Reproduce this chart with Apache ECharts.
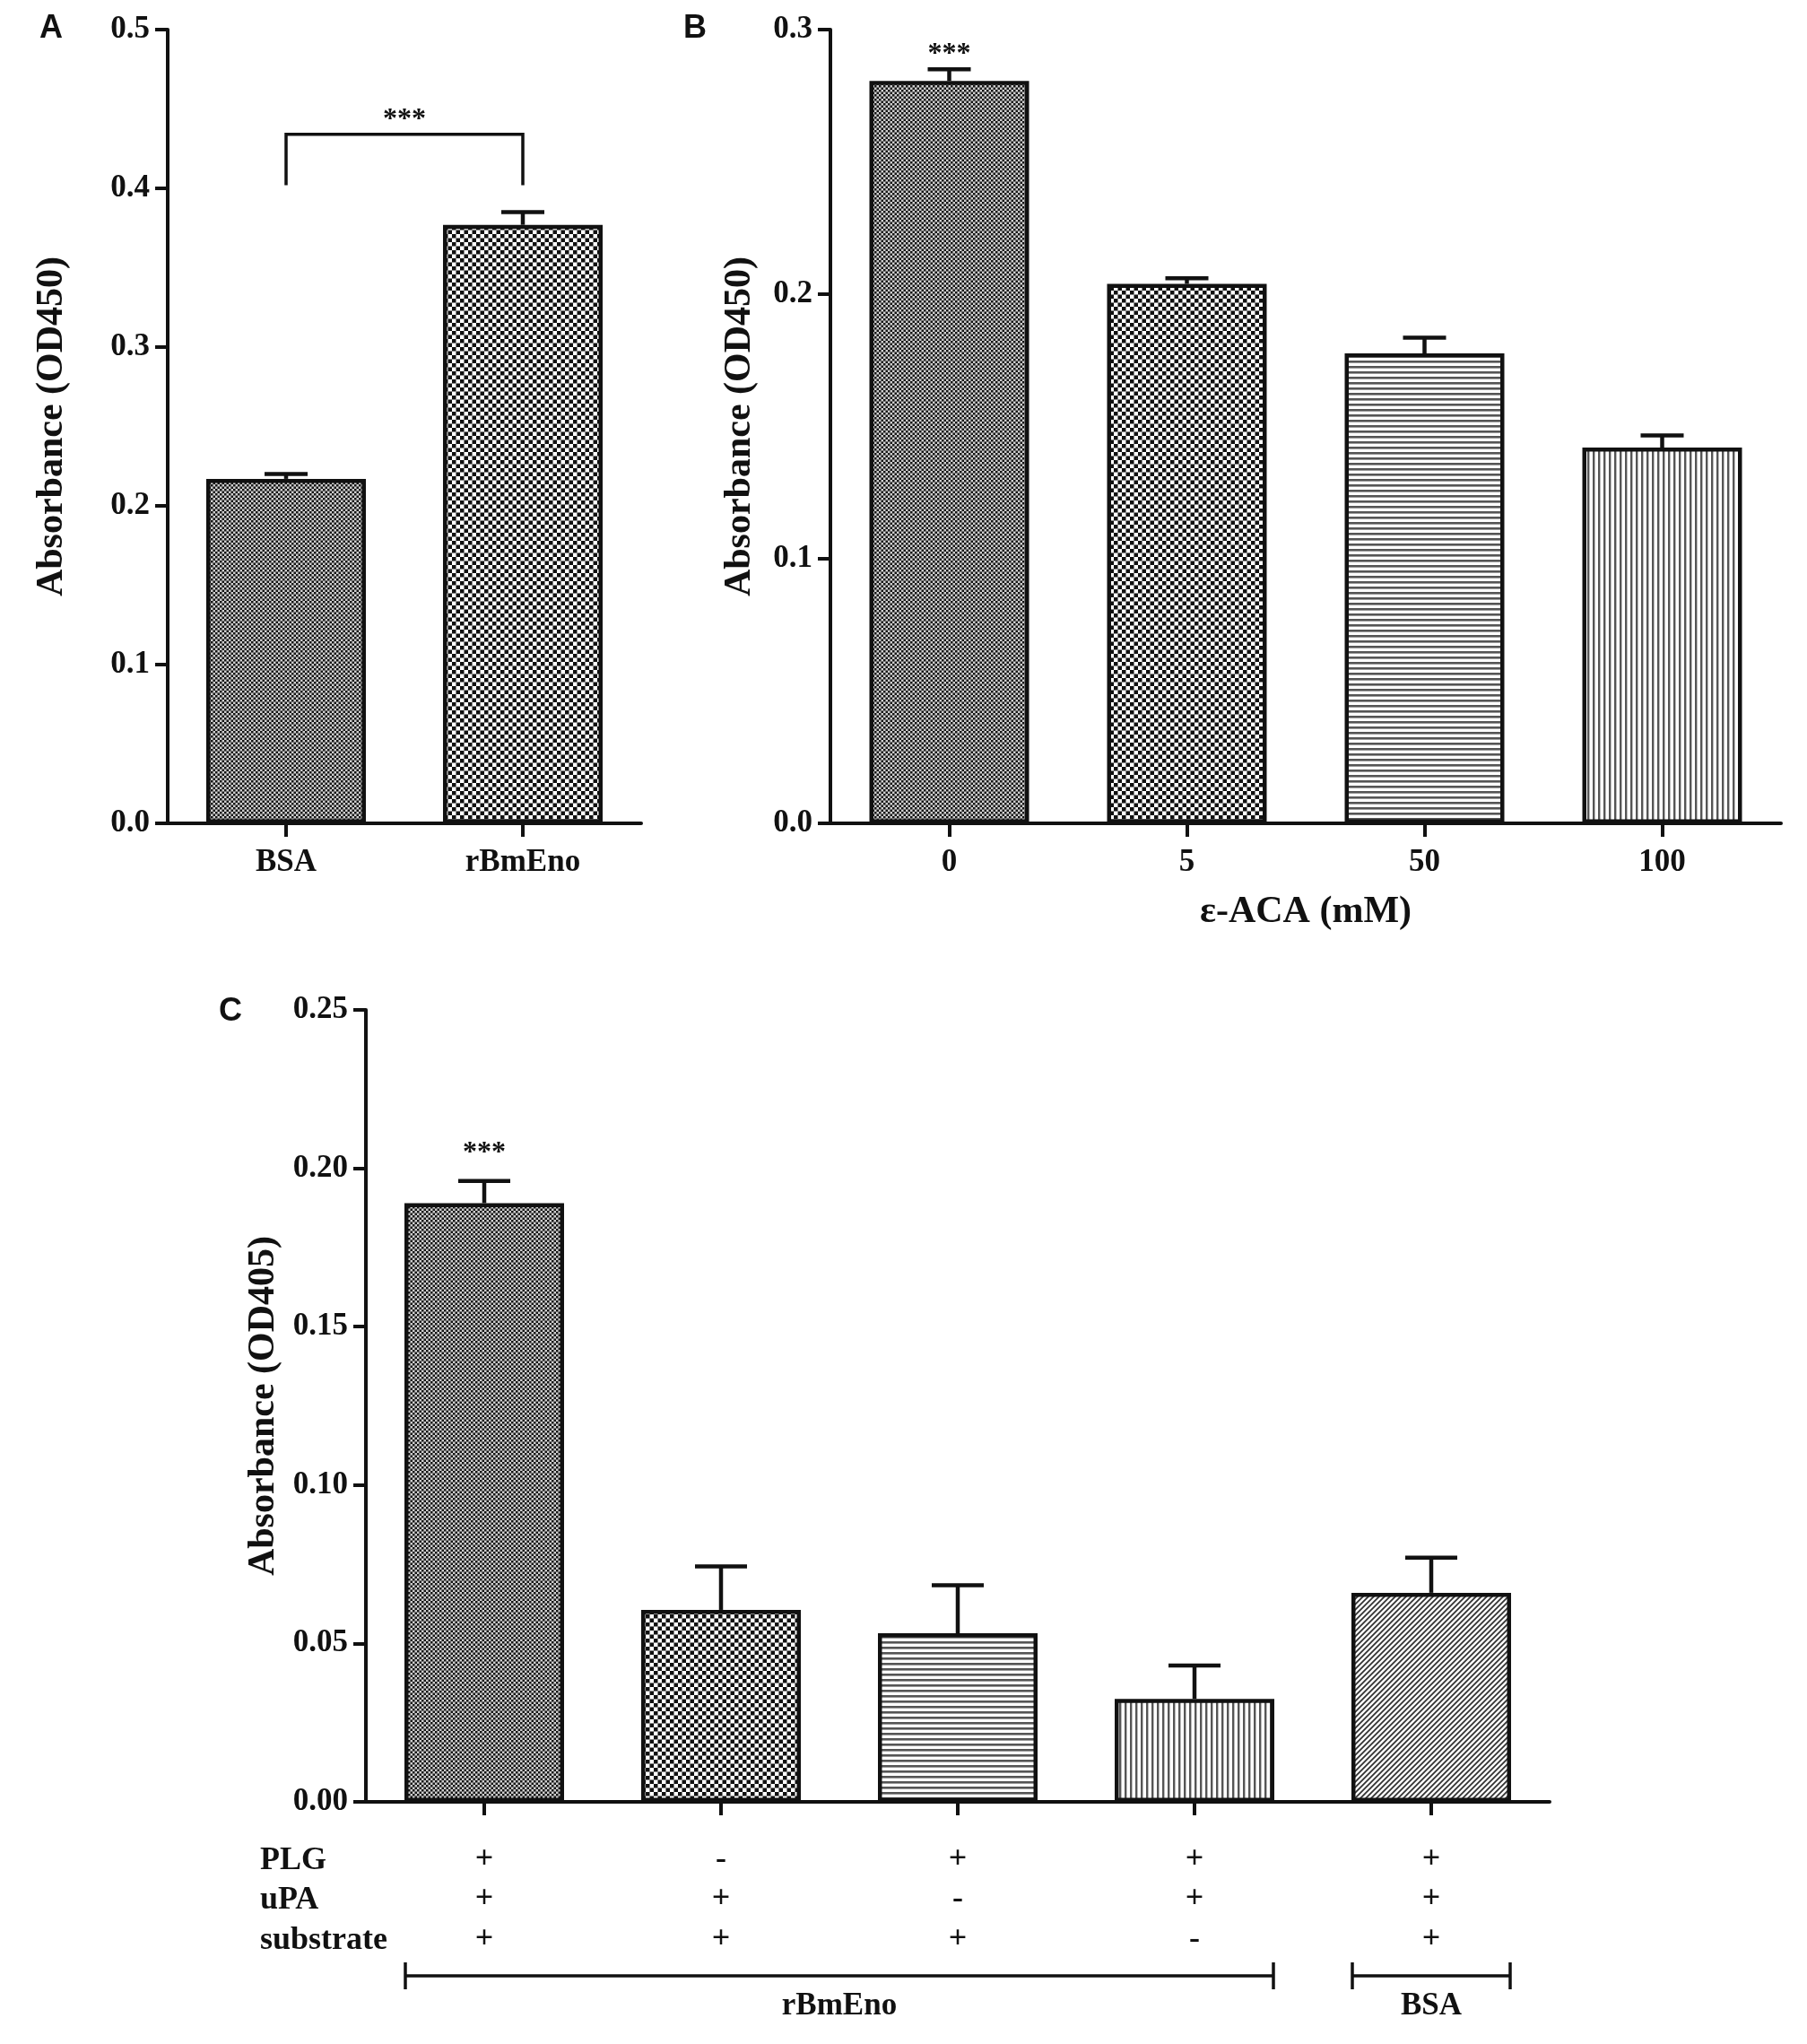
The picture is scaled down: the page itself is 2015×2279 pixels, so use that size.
<!DOCTYPE html>
<html><head><meta charset="utf-8">
<script src="https://cdn.jsdelivr.net/npm/echarts@6/dist/echarts.min.js"></script>
<style>html,body{margin:0;padding:0;background:#fff}#chart{width:2015px;height:2279px}</style>
</head><body><div id="chart"></div>
<script>
// ---------- DATA ----------
// Panel A
const catsA = ['BSA', 'rBmEno'];
const meanA = [0.217, 0.377];
const upperA = [0.220, 0.385];
const sigA = [{ from: 0, to: 1, y: 0.447, text: '***' }];
const bracketA = { from: 0, to: 1, bottom: 0.402, top: 0.434 };
// Panel B
const catsB = ['0', '5', '50', '100'];
const meanB = [0.2806, 0.2039, 0.1776, 0.1420];
const upperB = [0.2850, 0.2060, 0.1836, 0.1466];
const sigB = [{ from: 0, to: 0, y: 0.293, text: '***' }];
// Panel C
const catsC = ['1', '2', '3', '4', '5'];
const meanC = [0.1890, 0.0606, 0.0532, 0.0325, 0.0660];
const upperC = [0.1960, 0.0743, 0.0684, 0.0430, 0.0771];
const sigC = [{ from: 0, to: 0, y: 0.2068, text: '***' }];
const rowNames = ['PLG', 'uPA', 'substrate'];
const plg = ['+', '-', '+', '+', '+'];
const upa = ['+', '+', '-', '+', '+'];
const substrate = ['+', '+', '+', '-', '+'];
const groupsC = [{ name: 'rBmEno', from: 0, to: 3 }, { name: 'BSA', from: 4, to: 4 }];

// ---------- STYLE ----------
const INK = '#111';
const SERIF = 'Liberation Serif';
const patA = ['fine', 'coarse'];
const patB = ['fine', 'coarse', 'hlines', 'vlines'];
const patC = ['fine', 'coarse', 'hlines', 'vlines', 'diag'];

function makePattern(kind) {
  const c = document.createElement('canvas');
  let w = 6, h = 6;
  if (kind === 'fine') { w = h = 5; }
  if (kind === 'coarse') { w = h = 9; }
  c.width = w; c.height = h;
  const g = c.getContext('2d');
  g.fillStyle = '#fff'; g.fillRect(0, 0, w, h);
  if (kind === 'fine') {
    g.fillStyle = '#cfcfcf'; g.fillRect(0, 0, w, h);
    g.fillStyle = '#151515';
    g.fillRect(0, 0, 2.5, 2.5); g.fillRect(2.5, 2.5, 2.5, 2.5);
  } else if (kind === 'coarse') {
    g.fillStyle = '#111';
    g.fillRect(0, 0, 4.5, 4.5); g.fillRect(4.5, 4.5, 4.5, 4.5);
  } else if (kind === 'hlines') {
    g.fillStyle = '#555'; g.fillRect(0, 0, w, 2.6);
  } else if (kind === 'vlines') {
    g.fillStyle = '#555'; g.fillRect(0, 0, 2.4, h);
  } else if (kind === 'diag') {
    g.strokeStyle = '#333'; g.lineWidth = 1.8;
    g.beginPath();
    g.moveTo(-1, h + 1); g.lineTo(w + 1, -1);
    g.moveTo(-1, 1); g.lineTo(1, -1);
    g.moveTo(w - 1, h + 1); g.lineTo(w + 1, h - 1);
    g.stroke();
  }
  return { image: c, repeat: 'repeat' };
}

const grids = [
  { left: 187, top: 33, width: 528, height: 885 },
  { left: 926, top: 33, width: 1060, height: 885 },
  { left: 408, top: 1126, width: 1320, height: 883 }
];

const lineStyle = { color: INK, width: 4 };
function yAxis(gi, max, interval, dec, name, gap) {
  return {
    type: 'value', gridIndex: gi, min: 0, max: max, interval: interval,
    axisLine: { show: true, lineStyle: lineStyle },
    axisTick: { show: true, length: 14, lineStyle: lineStyle },
    splitLine: { show: false },
    axisLabel: { margin: 20, fontFamily: SERIF, fontWeight: 'bold', fontSize: 35, color: INK,
      formatter: v => v.toFixed(dec) },
    name: name, nameLocation: 'middle', nameGap: gap,
    nameTextStyle: { fontFamily: SERIF, fontWeight: 'bold', fontSize: 42, color: INK }
  };
}
function xAxis(gi, cats, extra) {
  return Object.assign({
    type: 'category', gridIndex: gi, data: cats,
    axisLine: { show: true, lineStyle: lineStyle },
    axisTick: { show: true, alignWithLabel: true, length: 15, lineStyle: lineStyle },
    splitLine: { show: false },
    axisLabel: { margin: 26, fontFamily: SERIF, fontWeight: 'bold', fontSize: 35, color: INK }
  }, extra || {});
}

function barSeries(gi, vals, pats) {
  return {
    type: 'bar', xAxisIndex: gi, yAxisIndex: gi, barWidth: 178,
    data: vals.map((v, i) => ({ value: v, itemStyle: { color: makePattern(pats[i]) } })),
    itemStyle: { borderColor: INK, borderWidth: 4.5 },
    silent: true, animation: false, z: 2
  };
}
function errSeries(gi, means, uppers, cap) {
  return {
    type: 'custom', xAxisIndex: gi, yAxisIndex: gi, animation: false, silent: true, z: 3,
    data: means.map((m, i) => [i, m, uppers[i]]),
    renderItem: (params, api) => {
      const i = api.value(0);
      const p1 = api.coord([i, api.value(1)]);
      const p2 = api.coord([i, api.value(2)]);
      return { type: 'group', children: [
        { type: 'line', shape: { x1: p1[0], y1: p1[1], x2: p2[0], y2: p2[1] }, style: { stroke: INK, lineWidth: 4.5 } },
        { type: 'line', shape: { x1: p2[0] - cap / 2, y1: p2[1], x2: p2[0] + cap / 2, y2: p2[1] }, style: { stroke: INK, lineWidth: 4.5 } }
      ] };
    }
  };
}
function sigSeries(gi, sigs) {
  return {
    type: 'custom', xAxisIndex: gi, yAxisIndex: gi, animation: false, silent: true, z: 4,
    data: sigs.map(s => [s.from, s.y, s.to]),
    renderItem: (params, api) => {
      const a = api.coord([api.value(0), api.value(1)]);
      const b = api.coord([api.value(2), api.value(1)]);
      return { type: 'text', x: (a[0] + b[0]) / 2, y: a[1] + 7,
        style: { text: sigs[params.dataIndex].text, textAlign: 'center', textVerticalAlign: 'middle',
          font: 'bold 32px "' + SERIF + '"', fill: INK } };
    }
  };
}
const bracketSeriesA = {
  type: 'custom', xAxisIndex: 0, yAxisIndex: 0, animation: false, silent: true, z: 4,
  data: [[bracketA.from, bracketA.bottom, bracketA.to, bracketA.top]],
  renderItem: (params, api) => {
    const p1 = api.coord([api.value(0), api.value(1)]);
    const p2 = api.coord([api.value(0), api.value(3)]);
    const p3 = api.coord([api.value(2), api.value(3)]);
    const p4 = api.coord([api.value(2), api.value(1)]);
    return { type: 'polyline', shape: { points: [p1, p2, p3, p4] }, style: { stroke: INK, lineWidth: 3.5, fill: null } };
  }
};
const groupSeriesC = {
  type: 'custom', xAxisIndex: 2, yAxisIndex: 2, animation: false, silent: true, z: 4, clip: false,
  data: groupsC.map(g => [g.from, 0, g.to]),
  renderItem: (params, api) => {
    const a = api.coord([api.value(0), api.value(1)]);
    const b = api.coord([api.value(2), api.value(1)]);
    const half = 88;
    const y = a[1] + 194;
    const x1 = a[0] - half, x2 = b[0] + half;
    return { type: 'group', children: [
      { type: 'line', shape: { x1: x1, y1: y, x2: x2, y2: y }, style: { stroke: INK, lineWidth: 3.5 } },
      { type: 'line', shape: { x1: x1, y1: y - 15, x2: x1, y2: y + 15 }, style: { stroke: INK, lineWidth: 3.5 } },
      { type: 'line', shape: { x1: x2, y1: y - 15, x2: x2, y2: y + 15 }, style: { stroke: INK, lineWidth: 3.5 } },
      { type: 'text', x: (x1 + x2) / 2, y: y + 34,
        style: { text: groupsC[params.dataIndex].name, textAlign: 'center', textVerticalAlign: 'middle',
          font: 'bold 35px "' + SERIF + '"', fill: INK } }
    ] };
  }
};

const option = {
  backgroundColor: '#fff',
  animation: false,
  grid: grids,
  xAxis: [
    xAxis(0, catsA),
    xAxis(1, catsB, {
      name: 'ε-ACA (mM)', nameLocation: 'middle', nameGap: 78,
      nameTextStyle: { fontFamily: SERIF, fontWeight: 'bold', fontSize: 42, color: INK }
    }),
    xAxis(2, catsC, {
      axisLabel: { margin: 42, lineHeight: 44.5, fontFamily: SERIF, fontWeight: 'bold', fontSize: 36, color: INK,
        formatter: (v, i) => [plg[i], upa[i], substrate[i]].join('\n') }
    })
  ],
  yAxis: [
    yAxis(0, 0.5, 0.1, 1, 'Absorbance (OD450)', 108),
    yAxis(1, 0.3, 0.1, 1, 'Absorbance (OD450)', 80),
    yAxis(2, 0.25, 0.05, 2, 'Absorbance (OD405)', 93)
  ],
  graphic: [
    { type: 'text', left: 44, top: 14, style: { text: 'A', font: 'bold 36px "Liberation Sans"', fill: INK } },
    { type: 'text', left: 762, top: 14, style: { text: 'B', font: 'bold 36px "Liberation Sans"', fill: INK } },
    { type: 'text', left: 244, top: 1110, style: { text: 'C', font: 'bold 36px "Liberation Sans"', fill: INK } },
    { type: 'text', left: 290, top: 2073 - 16, style: { text: rowNames[0], font: 'bold 36px "' + SERIF + '"', fill: INK } },
    { type: 'text', left: 290, top: 2117 - 16, style: { text: rowNames[1], font: 'bold 36px "' + SERIF + '"', fill: INK } },
    { type: 'text', left: 290, top: 2162 - 16, style: { text: rowNames[2], font: 'bold 36px "' + SERIF + '"', fill: INK } }
  ],
  series: [
    barSeries(0, meanA, patA), errSeries(0, meanA, upperA, 48), sigSeries(0, sigA), bracketSeriesA,
    barSeries(1, meanB, patB), errSeries(1, meanB, upperB, 48), sigSeries(1, sigB),
    barSeries(2, meanC, patC), errSeries(2, meanC, upperC, 58), sigSeries(2, sigC), groupSeriesC
  ]
};
const chart = echarts.init(document.getElementById('chart'), null, { renderer: 'canvas' });
chart.setOption(option);
</script>
</body></html>
